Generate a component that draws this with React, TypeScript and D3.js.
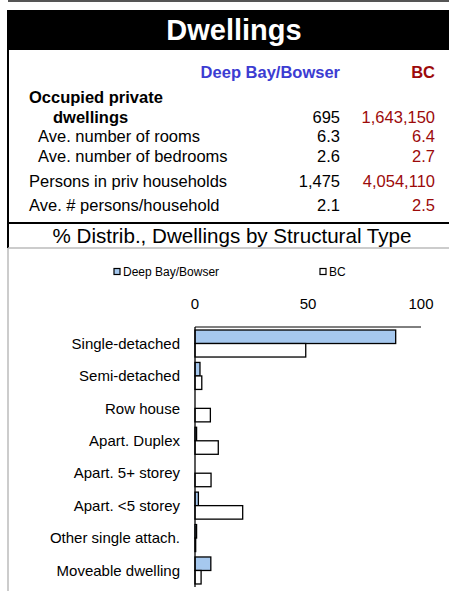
import React, { useEffect, useRef } from 'react';
import * as d3 from 'd3';

const areaName = 'Deep Bay/Bowser';
const provName = 'BC';

const tableLabels = ['Occupied private', 'dwellings', 'Ave. number of rooms', 'Ave. number of bedrooms', 'Persons in priv households', 'Ave. # persons/household'];
const tableLocal = ['', '695', '6.3', '2.6', '1,475', '2.1'];
const tableProv = ['', '1,643,150', '6.4', '2.7', '4,054,110', '2.5'];

const categories = ['Single-detached', 'Semi-detached', 'Row house', 'Apart. Duplex', 'Apart. 5+ storey', 'Apart. <5 storey', 'Other single attach.', 'Moveable dwelling'];
const localPct = [88.8, 2.2, 0, 0.7, 0, 1.5, 0.7, 7.0];
const provPct = [49.0, 3.0, 6.8, 10.3, 7.1, 21.1, 0.3, 2.7];
const ticks = [0, 50, 100];

const W = 449;
const H = 591;
const BLUE = '#a6c8ee';
const RED = '#9c0a0a';
const HEAD_BLUE = '#3c3cd2';
const FONT = '"Liberation Sans", Arial, sans-serif';

export default function App() {
  const ref = useRef<SVGSVGElement>(null);

  useEffect(() => {
    const svg = d3.select(ref.current);
    svg.selectAll('*').remove();

    // frame lines
    svg.append('line').attr('x1', 8).attr('x2', W).attr('y1', 1).attr('y2', 1)
      .attr('stroke', '#555').attr('stroke-width', 2);
    svg.append('rect').attr('x', 7).attr('y', 10).attr('width', W - 7).attr('height', 40).attr('fill', '#000');
    svg.append('text').attr('x', 234).attr('y', 30).attr('dy', '0.36em')
      .attr('text-anchor', 'middle').attr('fill', '#fff')
      .style('font', `bold 29px ${FONT}`).text('Dwellings');

    svg.append('line').attr('x1', 8).attr('x2', 8).attr('y1', 50).attr('y2', 248)
      .attr('stroke', '#000').attr('stroke-width', 2);
    svg.append('line').attr('x1', 8).attr('x2', W).attr('y1', 223).attr('y2', 223)
      .attr('stroke', '#000').attr('stroke-width', 2);

    // table
    const colLocal = 340;
    const colProv = 435;
    svg.append('text').attr('x', colLocal).attr('y', 72).attr('dy', '0.35em')
      .attr('text-anchor', 'end').attr('fill', HEAD_BLUE)
      .style('font', `bold 16.5px ${FONT}`).text(areaName);
    svg.append('text').attr('x', colProv).attr('y', 72).attr('dy', '0.35em')
      .attr('text-anchor', 'end').attr('fill', RED)
      .style('font', `bold 16.5px ${FONT}`).text(provName);

    const rowY = [97, 117, 136, 156, 181, 205];
    const rowX = [29, 53, 38, 38, 29, 29];
    tableLabels.forEach((lab, i) => {
      const bold = i < 2;
      svg.append('text').attr('x', rowX[i]).attr('y', rowY[i]).attr('dy', '0.35em')
        .attr('fill', '#000').style('font', `${bold ? 'bold ' : ''}16.5px ${FONT}`).text(lab);
      if (tableLocal[i]) {
        svg.append('text').attr('x', colLocal).attr('y', rowY[i]).attr('dy', '0.35em')
          .attr('text-anchor', 'end').attr('fill', '#000').style('font', `16.5px ${FONT}`).text(tableLocal[i]);
        svg.append('text').attr('x', colProv).attr('y', rowY[i]).attr('dy', '0.35em')
          .attr('text-anchor', 'end').attr('fill', RED).style('font', `16.5px ${FONT}`).text(tableProv[i]);
      }
    });

    svg.append('text').attr('x', 232).attr('y', 236).attr('dy', '0.35em')
      .attr('text-anchor', 'middle').attr('fill', '#000')
      .style('font', `20.6px ${FONT}`).text('% Distrib., Dwellings by Structural Type');

    // chart frame
    svg.append('line').attr('x1', 8).attr('x2', W).attr('y1', 248).attr('y2', 248)
      .attr('stroke', '#bbb').attr('stroke-width', 1.5);
    svg.append('line').attr('x1', 8).attr('x2', 8).attr('y1', 248).attr('y2', H)
      .attr('stroke', '#bbb').attr('stroke-width', 1.5);

    // legend
    const legend = [
      { name: areaName, fill: BLUE, x: 114 },
      { name: provName, fill: '#fff', x: 320 },
    ];
    legend.forEach(l => {
      svg.append('rect').attr('x', l.x).attr('y', 268.5).attr('width', 6).attr('height', 6)
        .attr('fill', l.fill).attr('stroke', '#000').attr('stroke-width', 1.2);
      svg.append('text').attr('x', l.x + 9).attr('y', 272).attr('dy', '0.35em')
        .attr('fill', '#000').style('font', `12px ${FONT}`).text(l.name);
    });

    // bars
    const x = d3.scaleLinear().domain([0, 100]).range([195, 421]);
    const y = d3.scaleBand<string>().domain(categories).range([327, 587])
      .paddingInner(0.167).paddingOuter(0.093);
    const y2 = d3.scaleBand<string>().domain(['local', 'prov']).range([0, y.bandwidth()]);

    const g = svg.append('g');
    g.selectAll('text.tick').data(ticks).enter().append('text')
      .attr('x', d => x(d)).attr('y', 304).attr('dy', '0.35em')
      .attr('text-anchor', 'middle').attr('fill', '#000')
      .style('font', `15px ${FONT}`).text(d => d);

    const rows = g.selectAll('g.row').data(categories).enter().append('g')
      .attr('transform', d => `translate(0,${y(d)})`);

    rows.append('rect').attr('x', x(0)).attr('y', y2('local')!)
      .attr('width', (d, i) => x(localPct[i]) - x(0)).attr('height', y2.bandwidth())
      .attr('fill', BLUE).attr('stroke', '#000').attr('stroke-width', 1.3)
      .attr('display', (d, i) => localPct[i] > 0 ? null : 'none');
    rows.append('rect').attr('x', x(0)).attr('y', y2('prov')!)
      .attr('width', (d, i) => x(provPct[i]) - x(0)).attr('height', y2.bandwidth())
      .attr('fill', '#fff').attr('stroke', '#000').attr('stroke-width', 1.3)
      .attr('display', (d, i) => provPct[i] > 0 ? null : 'none');

    g.selectAll('text.cat').data(categories).enter().append('text')
      .attr('x', 180).attr('y', d => y(d)! + y.bandwidth() / 2).attr('dy', '0.35em')
      .attr('text-anchor', 'end').attr('fill', '#000')
      .style('font', `15px ${FONT}`).text(d => d);

    // axis lines
    g.append('line').attr('x1', x(0)).attr('x2', x(100)).attr('y1', 327).attr('y2', 327)
      .attr('stroke', '#000').attr('stroke-width', 1);
    g.append('line').attr('x1', x(0)).attr('x2', x(0)).attr('y1', 327).attr('y2', 587)
      .attr('stroke', '#000').attr('stroke-width', 1.3);
  }, []);

  return (
    <svg ref={ref} width={W} height={H}
      style={{ position: 'absolute', left: 0, top: 0, background: '#fff' }} />
  );
}
